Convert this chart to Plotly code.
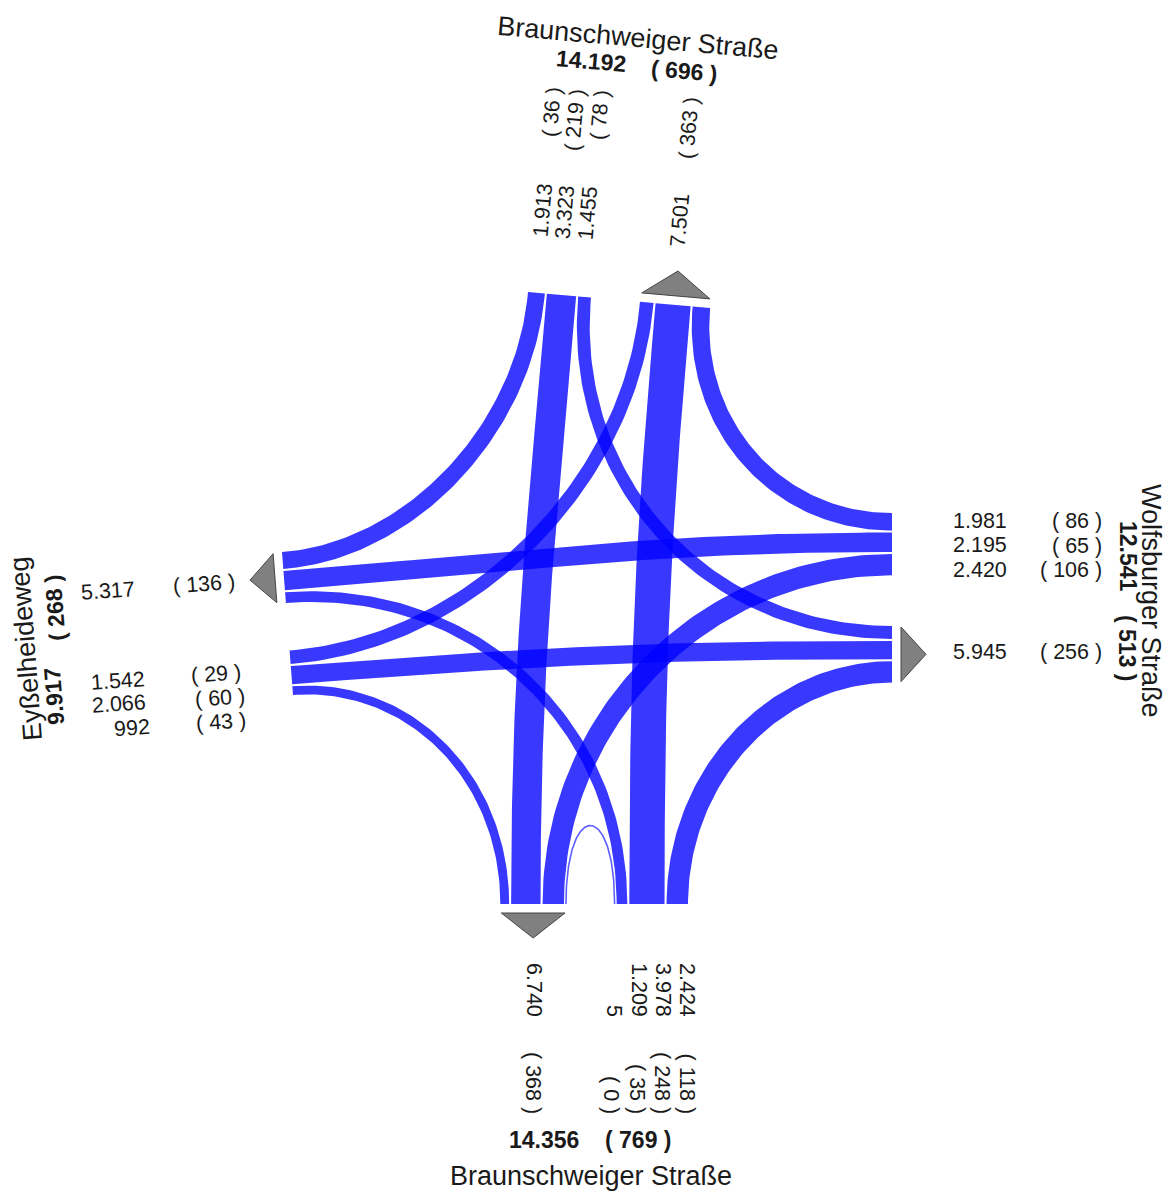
import numpy as np
import plotly.graph_objects as go

# ---------------- data ----------------
arm_ids = ["N", "E", "S", "W"]
arm_names = ["Braunschweiger Straße", "Wolfsburger Straße", "Braunschweiger Straße", "Eyßelheideweg"]

flow_from = ["N", "N", "N", "E", "E", "E", "S", "S", "S", "S", "W", "W", "W"]
flow_to = ["W", "S", "E", "N", "W", "S", "E", "N", "W", "S", "S", "E", "N"]
flow_total = [1913, 3323, 1455, 1981, 2195, 2420, 2424, 3978, 1209, 5, 992, 2066, 1542]
flow_heavy = [36, 219, 78, 86, 65, 106, 118, 248, 35, 0, 43, 60, 29]

# ---------------- layout / style ----------------
W_PX, H_PX = 1173, 1192
SCALE = 0.00885      # px per vehicle
GAP = 2.0
BAND_COLOR = "rgba(0,0,255,0.78)"
FONT = "Liberation Sans, Arial, sans-serif"
TXT = "#1a1a1a"

arm_geom = {
    "N": dict(origin=(528, 292), ang=5.0, out_start=112.4),
    "E": dict(origin=(892, 513), ang=90.0, out_start=113.0),
    "S": dict(origin=(688, 904), ang=180.0, out_start=122.0),
    "W": dict(origin=(293, 695), ang=-94.4, out_start=92.3),
}
for a, g in arm_geom.items():
    r = np.deg2rad(g["ang"])
    g["u"] = np.array([np.cos(r), np.sin(r)])
    g["n"] = np.array([-np.sin(r), np.cos(r)])
    g["o"] = np.array(g["origin"], dtype=float)


def pt(arm, s):
    g = arm_geom[arm]
    return g["o"] + s * g["u"]


def turn(a, b):
    d = (arm_ids.index(b) - arm_ids.index(a)) % 4
    return {3: "R", 2: "S", 1: "L", 0: "U"}[d]


in_rank = {"R": 0, "S": 1, "L": 2, "U": 3}
out_rank = {"U": 0, "L": 1, "S": 2, "R": 3}

# positions of band ends along arm lines
ends_in, ends_out = {}, {}
for arm in arm_ids:
    idx = [i for i in range(len(flow_from)) if flow_from[i] == arm]
    idx.sort(key=lambda i: in_rank[turn(flow_from[i], flow_to[i])])
    s = 0.0
    for i in idx:
        w = flow_total[i] * SCALE
        ends_in[i] = (s, s + w)
        s += w + GAP
    idx = [i for i in range(len(flow_to)) if flow_to[i] == arm]
    idx.sort(key=lambda i: out_rank[turn(flow_from[i], flow_to[i])])
    s = arm_geom[arm]["out_start"]
    st = s
    for i in idx:
        w = flow_total[i] * SCALE
        ends_out[i] = (s, s + w)
        s += w + GAP
    arm_geom[arm]["out_span"] = (st, s - GAP)


def bezier(P, nP, Q, nQ, uturn=False, n=90):
    P = np.asarray(P, float)
    Q = np.asarray(Q, float)
    dist = np.linalg.norm(Q - P)
    cross = nP[0] * nQ[1] - nP[1] * nQ[0]
    if uturn:
        d1 = d2 = 2.15 * dist
    elif abs(cross) < 0.5:
        d1 = d2 = 0.4 * dist
    else:
        M = np.array([[nP[0], -nQ[0]], [nP[1], -nQ[1]]])
        s, t = np.linalg.solve(M, Q - P)
        d1, d2 = 0.55 * s, 0.55 * t
    C1 = P + d1 * nP
    C2 = Q + d2 * nQ
    t = np.linspace(0, 1, n)[:, None]
    return (1 - t) ** 3 * P + 3 * (1 - t) ** 2 * t * C1 + 3 * (1 - t) * t ** 2 * C2 + t ** 3 * Q


fig = go.Figure()

for i in range(len(flow_total)):
    A, B = flow_from[i], flow_to[i]
    nA, nB = arm_geom[A]["n"], arm_geom[B]["n"]
    sa0, sa1 = ends_in[i]
    sb0, sb1 = ends_out[i]
    ut = A == B
    w = flow_total[i] * SCALE
    if w < 1.5:
        c = bezier(pt(A, (sa0 + sa1) / 2), nA, pt(B, (sb0 + sb1) / 2), nB, uturn=ut)
        fig.add_trace(go.Scatter(x=c[:, 0], y=c[:, 1], mode="lines",
                                 line=dict(color="rgba(40,40,255,0.75)", width=1.6),
                                 hoverinfo="skip", showlegend=False))
        continue
    a0, a1, b0, b1 = pt(A, sa0), pt(A, sa1), pt(B, sb0), pt(B, sb1)
    c1 = bezier(a1, nA, b0, nB, uturn=ut)
    c2 = bezier(b1, nB, a0, nA, uturn=ut)
    poly = np.vstack([a0[None], c1, c2])
    fig.add_trace(go.Scatter(x=poly[:, 0], y=poly[:, 1], mode="lines", fill="toself",
                             fillcolor=BAND_COLOR, line=dict(width=0, color="rgba(0,0,0,0)"),
                             hoverinfo="skip", showlegend=False))

# arrows for outgoing groups
for arm in arm_ids:
    g = arm_geom[arm]
    s0, s1 = g["out_span"]
    sc = (s0 + s1) / 2
    hw = (s1 - s0) / 2 - 1
    p1 = pt(arm, sc - hw) - 9 * g["n"]
    p2 = pt(arm, sc + hw) - 9 * g["n"]
    ap = pt(arm, sc) - 34 * g["n"]
    tri = np.array([p1, p2, ap, p1])
    fig.add_trace(go.Scatter(x=tri[:, 0], y=tri[:, 1], mode="lines", fill="toself",
                             fillcolor="#808080", line=dict(color="#444444", width=1),
                             hoverinfo="skip", showlegend=False))


def fmt(v):
    return f"{v:,}".replace(",", ".")


# label placement (layout)
lab_style = {
    "N": dict(textangle=-85, xanchor="center", yanchor="top"),
    "E": dict(textangle=0, xanchor="right", yanchor="middle"),
    "S": dict(textangle=90, xanchor="center", yanchor="bottom"),
    "W": dict(textangle=-4, xanchor="right", yanchor="middle"),
}
num_pos = {
    ("N", "in"): [(543, 180), (565, 182), (588, 183)],
    ("N", "out"): [(680, 190)],
    ("E", "in"): [(1009, 521), (1009, 545), (1009, 570)],
    ("E", "out"): [(1009, 652)],
    ("S", "in"): [(687, 1019), (663, 1019), (639, 1019), (614, 1019)],
    ("S", "out"): [(534, 1019)],
    ("W", "in"): [(153, 728), (149, 704), (148, 681)],
    ("W", "out"): [(138, 591)],
}
par_pos = {
    ("N", "in"): [(552, 84), (575, 86), (600, 87)],
    ("N", "out"): [(689, 94)],
    ("E", "in"): [(1104, 521), (1104, 546), (1104, 570)],
    ("E", "out"): [(1104, 652)],
    ("S", "in"): [(687, 1116), (662, 1116), (637, 1116), (611, 1116)],
    ("S", "out"): [(533, 1116)],
    ("W", "in"): [(249, 722), (248, 698), (244, 674)],
    ("W", "out"): [(238, 584)],
}
head_pos = {
    "N": dict(ang=5, title=(638, 38), tot=(591, 61), hv=(684, 71)),
    "E": dict(ang=90, title=(1151, 601), tot=(1128, 556), hv=(1127, 648)),
    "S": dict(ang=0, title=(591, 1176), tot=(544, 1140), hv=(638, 1140)),
    "W": dict(ang=-94.4, title=(26, 649), tot=(54, 696), hv=(55, 608)),
}

NUM_SIZE, BOLD_SIZE, TITLE_SIZE = 21.5, 23, 27
ann = []


def add_text(x, y, text, size, angle=0, xa="center", ya="middle", bold=False):
    t = f"<b>{text}</b>" if bold else text
    ann.append(dict(x=x, y=y, xref="x", yref="y", text=t, showarrow=False,
                    textangle=angle, xanchor=xa, yanchor=ya,
                    font=dict(family=FONT, size=size, color=TXT)))


for arm in arm_ids:
    st = lab_style[arm]
    ins = [i for i in range(len(flow_from)) if flow_from[i] == arm]
    ins.sort(key=lambda i: in_rank[turn(flow_from[i], flow_to[i])])
    for k, i in enumerate(ins):
        x, y = num_pos[(arm, "in")][k]
        add_text(x, y, fmt(flow_total[i]), NUM_SIZE, st["textangle"], st["xanchor"], st["yanchor"])
        x, y = par_pos[(arm, "in")][k]
        add_text(x, y, f"( {fmt(flow_heavy[i])} )", NUM_SIZE, st["textangle"], st["xanchor"], st["yanchor"])
    outs = [i for i in range(len(flow_to)) if flow_to[i] == arm]
    out_tot = sum(flow_total[i] for i in outs)
    out_hv = sum(flow_heavy[i] for i in outs)
    x, y = num_pos[(arm, "out")][0]
    add_text(x, y, fmt(out_tot), NUM_SIZE, st["textangle"], st["xanchor"], st["yanchor"])
    x, y = par_pos[(arm, "out")][0]
    add_text(x, y, f"( {fmt(out_hv)} )", NUM_SIZE, st["textangle"], st["xanchor"], st["yanchor"])

    arm_tot = sum(flow_total[i] for i in ins) + out_tot
    arm_hv = sum(flow_heavy[i] for i in ins) + out_hv
    h = head_pos[arm]
    add_text(*h["title"], arm_names[arm_ids.index(arm)], TITLE_SIZE, h["ang"])
    add_text(*h["tot"], fmt(arm_tot), BOLD_SIZE, h["ang"], bold=True)
    add_text(*h["hv"], f"( {fmt(arm_hv)} )", BOLD_SIZE, h["ang"], bold=True)

fig.update_layout(
    width=W_PX, height=H_PX,
    margin=dict(l=0, r=0, t=0, b=0),
    paper_bgcolor="white", plot_bgcolor="white",
    xaxis=dict(range=[0, W_PX], visible=False, fixedrange=True),
    yaxis=dict(range=[H_PX, 0], visible=False, fixedrange=True),
    annotations=ann,
    showlegend=False,
    hovermode=False,
)

fig.write_html("out.html", post_script="document.body.style.margin='0';",
               config={"displayModeBar": False})
